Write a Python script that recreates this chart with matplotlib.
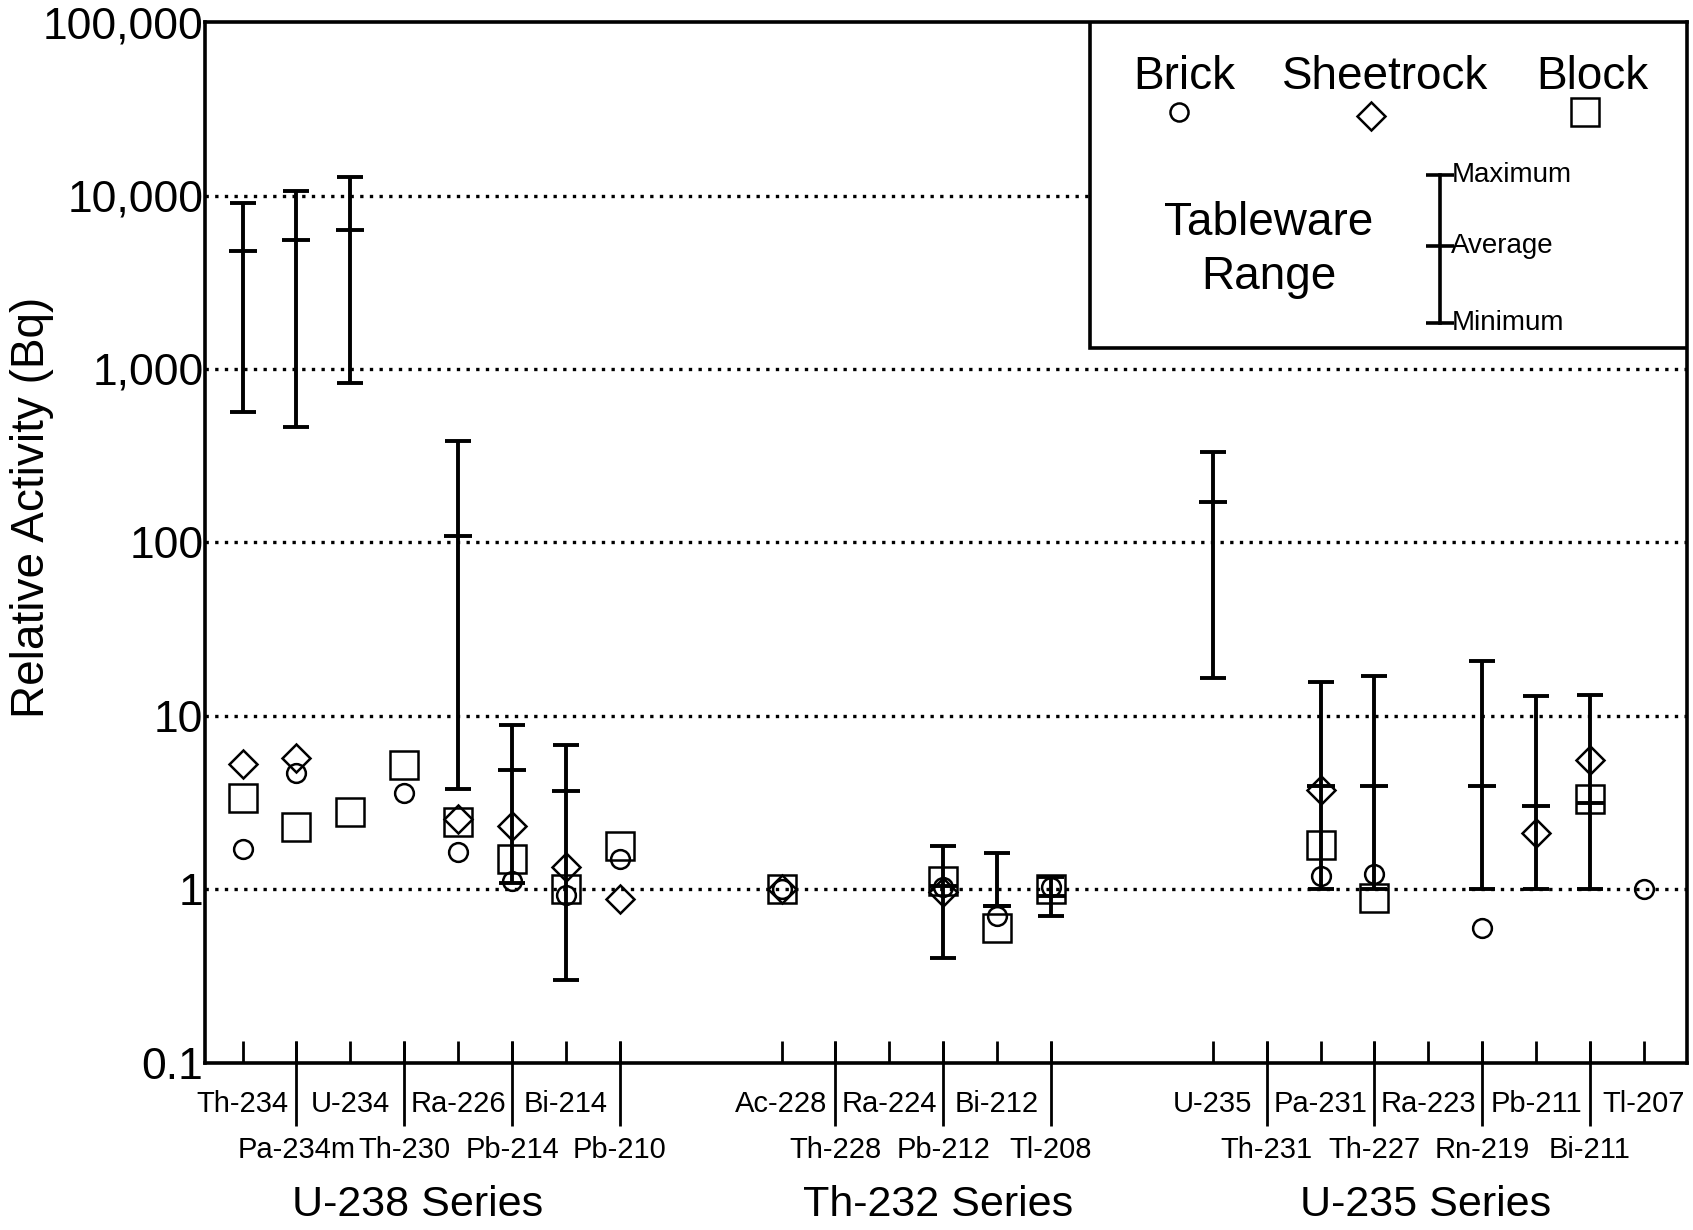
import numpy as np
import matplotlib
matplotlib.use("Agg")
import matplotlib.pyplot as plt
from matplotlib.ticker import NullLocator
from matplotlib.transforms import blended_transform_factory

plt.rcParams['font.family'] = ['Liberation Sans', 'DejaVu Sans']

nan = np.nan

# nuclides in order, three decay series
series_names = ["U-238 Series", "Th-232 Series", "U-235 Series"]
series_nuclides = [
    ["Th-234", "Pa-234m", "U-234", "Th-230", "Ra-226", "Pb-214", "Bi-214", "Pb-210"],
    ["Ac-228", "Th-228", "Ra-224", "Pb-212", "Bi-212", "Tl-208"],
    ["U-235", "Th-231", "Pa-231", "Th-227", "Ra-223", "Rn-219", "Pb-211", "Bi-211", "Tl-207"],
]

# tableware range (Bq, relative)
tw_min = [565, 462, 830, nan, 3.78, 1.09, 0.30, nan,
          nan, nan, nan, 0.40, 0.80, 0.70,
          16.5, nan, 1.0, 1.0, nan, 1.0, 1.0, 1.0, nan]
tw_avg = [4820, 5560, 6330, nan, 109, 4.9, 3.7, nan,
          nan, nan, nan, 1.05, 0.80, 0.91,
          172, nan, 3.96, 3.96, nan, 3.96, 3.03, 3.15, nan]
tw_max = [9060, 10600, 12760, nan, 384, 8.9, 6.8, nan,
          nan, nan, nan, 1.77, 1.62, 1.17,
          333, nan, 15.7, 16.9, nan, 20.7, 13.0, 13.2, nan]

brick = [1.70, 4.69, nan, 3.57, 1.63, 1.12, 0.93, 1.49,
         1.0, nan, nan, 1.03, 0.70, 1.03,
         nan, nan, 1.20, 1.22, nan, 0.60, nan, nan, 1.0]
sheetrock = [5.25, 5.72, nan, nan, 2.53, 2.32, 1.35, 0.88,
             1.0, nan, nan, 0.97, nan, nan,
             nan, nan, 3.74, nan, nan, nan, 2.11, 5.57, nan]
block = [3.37, 2.29, 2.80, 5.18, 2.43, 1.49, 1.0, 1.77,
         1.0, nan, nan, 1.12, 0.60, 1.0,
         nan, nan, 1.81, 0.89, nan, nan, nan, 3.31, nan]

# x positions: groups separated by a gap of two slots
pos = []
start = 1
for names in series_nuclides:
    p = list(range(start, start + len(names)))
    pos += p
    start = p[-1] + 3
pos = np.array(pos)
labels = [n for names in series_nuclides for n in names]
series_label_x = [4.25, 13.9, 22.95]

tw_min = np.array(tw_min)
tw_avg = np.array(tw_avg)
tw_max = np.array(tw_max)

fig = plt.figure(figsize=(16.93, 12.3), dpi=100)
ax = fig.add_axes([0.121, 0.136, 0.8755, 0.846])
ax.set_yscale("log")
ax.set_ylim(0.1, 100000)
ax.set_xlim(0.3, 27.8)

yt = [0.1, 1, 10, 100, 1000, 10000, 100000]
ax.set_yticks(yt, ["0.1", "1", "10", "100", "1,000", "10,000", "100,000"])
ax.yaxis.set_minor_locator(NullLocator())
ax.tick_params(axis="y", length=0, pad=1, labelsize=32)
for v in yt[1:-1]:
    ax.axhline(v, color="k", lw=2.4, ls=(0, (1, 1.9)), zorder=1)

for s in ax.spines.values():
    s.set_linewidth(2.6)

# x ticks: all inward, odd labels on first row, even ones on second row with long ticks
row1 = [l if p % 2 == 1 else "" for p, l in zip(pos, labels)]
ax.set_xticks(pos, row1)
even = pos % 2 == 0
ax.xaxis.remove_overlapping_locs = False
ax.set_xticks(pos[even], [l for l, e in zip(labels, even) if e], minor=True)
ax.tick_params(axis="x", which="major", direction="in", length=16, width=2,
               pad=20, labelsize=21)
ax.tick_params(axis="x", which="minor", direction="out", length=45, width=2,
               pad=8, labelsize=21)
trans = blended_transform_factory(ax.transData, ax.transAxes)
ax.vlines(pos[even], 0, 0.021, color="k", lw=2, transform=trans, clip_on=False)

for c, name in zip(series_label_x, series_names):
    ax.text(c, -0.137, name, transform=trans, ha="center", va="center", fontsize=31)

ax.set_ylabel("Relative Activity (Bq)", fontsize=33)
ax.yaxis.set_label_coords(-0.102, 0.534)

# tableware range bars
ok = ~np.isnan(tw_avg)
ax.errorbar(pos[ok], tw_avg[ok], yerr=[tw_avg[ok] - tw_min[ok], tw_max[ok] - tw_avg[ok]],
            fmt="none", ecolor="k", elinewidth=2.8, capsize=9.7, capthick=2.8, zorder=3)
ax.plot(pos[ok], tw_avg[ok], ls="none", marker="_", ms=19.5, mew=2.8, color="k", zorder=3)

mk = dict(ls="none", mfc="none", mec="k", mew=1.8, zorder=4)
ax.plot(pos, brick, marker="o", ms=13.5, **mk)
ax.plot(pos, sheetrock, marker="D", ms=14.5, **mk)
ax.plot(pos, block, marker="s", ms=20.5, **mk)

# legend box
ta = ax.transAxes
ax.add_patch(plt.Rectangle((0.597, 0.687), 0.403, 0.313, transform=ta, fill=True,
                           fc="white", ec="k", lw=2.6, zorder=5))
for x, t in [(0.661, "Brick"), (0.796, "Sheetrock"), (0.936, "Block")]:
    ax.text(x, 0.947, t, transform=ta, ha="center", va="center", fontsize=33, zorder=6)
lk = {**mk, "zorder": 6}
ax.plot([0.657], [0.914], transform=ta, marker="o", ms=13, clip_on=False, **lk)
ax.plot([0.787], [0.910], transform=ta, marker="D", ms=14.5, clip_on=False, **lk)
ax.plot([0.931], [0.914], transform=ta, marker="s", ms=20.5, clip_on=False, **lk)
ax.text(0.718, 0.781, "Tableware\nRange", transform=ta, ha="center", va="center",
        fontsize=33, linespacing=1.27, zorder=6)
bx, ytop, yavg, ybot = 0.833, 0.853, 0.785, 0.711
ax.plot([bx, bx], [ybot, ytop], transform=ta, color="k", lw=2.6, zorder=6)
ax.plot([bx] * 3, [ytop, yavg, ybot], transform=ta, ls="none", marker="_", ms=20,
        mew=2.6, color="k", zorder=6)
for y, t in [(ytop, "Maximum"), (yavg, "Average"), (ybot, "Minimum")]:
    ax.text(bx + 0.008, y, t, transform=ta, ha="left", va="center", fontsize=20, zorder=6)

fig.savefig("out.png", dpi=100)
